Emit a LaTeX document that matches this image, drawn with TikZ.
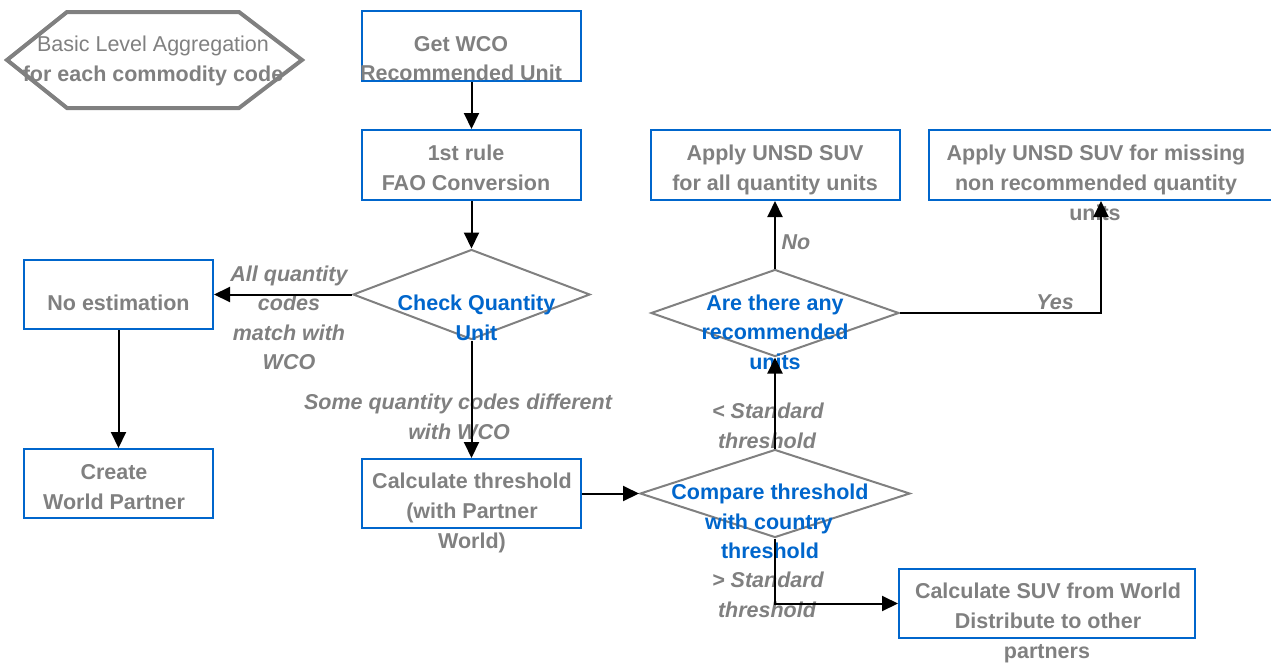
\documentclass[tikz,border=0pt]{standalone}
\usepackage{fontspec}
\setmainfont{Liberation Sans}
\usetikzlibrary{shapes.geometric, arrows.meta}
\definecolor{tgray}{RGB}{128,128,128}
\definecolor{bblue}{RGB}{0,102,204}
\definecolor{dgray}{RGB}{128,128,128}
\newcommand{\fsz}{\fontsize{21.5}{25}\selectfont}
\tikzset{
  box/.style={draw=bblue, line width=2pt, rectangle, inner sep=0pt},
  dec/.style={draw=dgray, line width=2pt, diamond, inner sep=0pt},
  txt/.style={anchor=base, inner sep=0pt, text=tgray, font=\fsz\bfseries},
  rtxt/.style={anchor=base, inner sep=0pt, text=tgray, font=\fsz},
  lbl/.style={anchor=base, inner sep=0pt, text=tgray, font=\fsz\bfseries\itshape},
  btxt/.style={anchor=base, inner sep=0pt, text=bblue, font=\fsz\bfseries},
  arr/.style={draw=black, line width=2pt, -{Triangle[length=16pt,width=15pt]}},
  hexline/.style={draw=dgray, line width=4pt},
}
\begin{document}
\begin{tikzpicture}[x=1pt,y=-1pt]
\useasboundingbox (0,0) rectangle (1271,664);
\clip (0,0) rectangle (1271,664);
% hexagon
\draw[hexline] (7,60) -- (67,12) -- (239,12) -- (302,60) -- (239,108) -- (67,108) -- cycle;
\node[rtxt] (hexa) at (153,51) {Basic Level Aggregation};
\node[txt] (hexb) at (153,81) {for each commodity code};
% boxes
\node[box, minimum width=219pt, minimum height=70pt] (wco) at (471.5,46) {};
\node[box, minimum width=219pt, minimum height=70pt] (rule) at (471.5,165) {};
\node[box, minimum width=189pt, minimum height=69pt] (noest) at (118.5,294.5) {};
\node[box, minimum width=189pt, minimum height=69pt] (world) at (118.5,483.5) {};
\node[box, minimum width=219pt, minimum height=69pt] (calc) at (471.5,493.5) {};
\node[box, minimum width=249pt, minimum height=70pt] (applyall) at (775,165) {};
\node[box, minimum width=344pt, minimum height=70pt] (applymiss) at (1101,165) {};
\node[box, minimum width=296pt, minimum height=69pt] (calcsuv) at (1047,603.5) {};
% diamonds
\node[dec, minimum width=237pt, minimum height=90pt] (check) at (471.5,294.5) {};
\node[dec, minimum width=270pt, minimum height=88pt] (compare) at (775,493.5) {};
\node[dec, minimum width=248pt, minimum height=87pt] (arethere) at (775,313) {};
% texts
\node[txt] (t1a) at (461,51) {Get WCO};
\node[txt] (t1b) at (461,80) {Recommended Unit};
\node[txt] (t2a) at (466,160) {1st rule};
\node[txt] (t2b) at (466,190) {FAO Conversion};
\node[txt] (t3) at (118.5,310) {No estimation};
\node[txt] (t4a) at (114,479) {Create};
\node[txt] (t4b) at (114,509) {World Partner};
\node[txt] (t5a) at (472,488) {Calculate threshold};
\node[txt] (t5b) at (472,518) {(with Partner};
\node[txt] (t5c) at (472,548) {World)};
\node[txt] (t6a) at (775,160) {Apply UNSD SUV};
\node[txt] (t6b) at (775,190) {for all quantity units};
\node[txt] (t7a) at (1096,160) {Apply UNSD SUV for missing};
\node[txt] (t7b) at (1096,190) {non recommended quantity};
\node[txt] (t7c) at (1095,220) {units};
\node[txt] (t8a) at (1048,598) {Calculate SUV from World};
\node[txt] (t8b) at (1048,628) {Distribute to other};
\node[txt] (t8c) at (1047,658) {partners};
\node[btxt] (c1a) at (476.5,310) {Check Quantity};
\node[btxt] (c1b) at (476.5,340) {Unit};
\node[btxt] (c2a) at (770,499) {Compare threshold};
\node[btxt] (c2b) at (769,529) {with country};
\node[btxt] (c2c) at (770,558) {threshold};
\node[btxt] (c3a) at (775,310) {Are there any};
\node[btxt] (c3b) at (775,339) {recommended};
\node[btxt] (c3c) at (775,369) {units};
% edge labels
\node[lbl] (l1a) at (289,281) {All quantity};
\node[lbl] (l1b) at (289,310) {codes};
\node[lbl] (l1c) at (289,340) {match with};
\node[lbl] (l1d) at (289,369) {WCO};
\node[lbl] (l2a) at (458,409) {Some quantity codes different};
\node[lbl] (l2b) at (459,439) {with WCO};
\node[lbl] (l3a) at (768,418) {< Standard};
\node[lbl] (l3b) at (767,448) {threshold};
\node[lbl] (l4a) at (768,587) {> Standard};
\node[lbl] (l4b) at (767,617) {threshold};
\node[lbl] (l5) at (796,249) {No};
\node[lbl] (l6) at (1055,309) {Yes};
% connectors
\draw[arr] (wco) -- (rule);
\draw[arr] (rule) -- (check);
\draw[arr] (check) -- (noest);
\draw[arr] (noest) -- (world);
\draw[arr] (check) -- (calc);
\draw[arr] (calc.east) -- (compare.west);
\draw[arr] (compare) -- (arethere);
\draw[arr] (arethere) -- (applyall);
\draw[arr] (arethere.east) -| (applymiss.south);
\draw[arr] (compare.south) |- (calcsuv.west);
\end{tikzpicture}
\end{document}
